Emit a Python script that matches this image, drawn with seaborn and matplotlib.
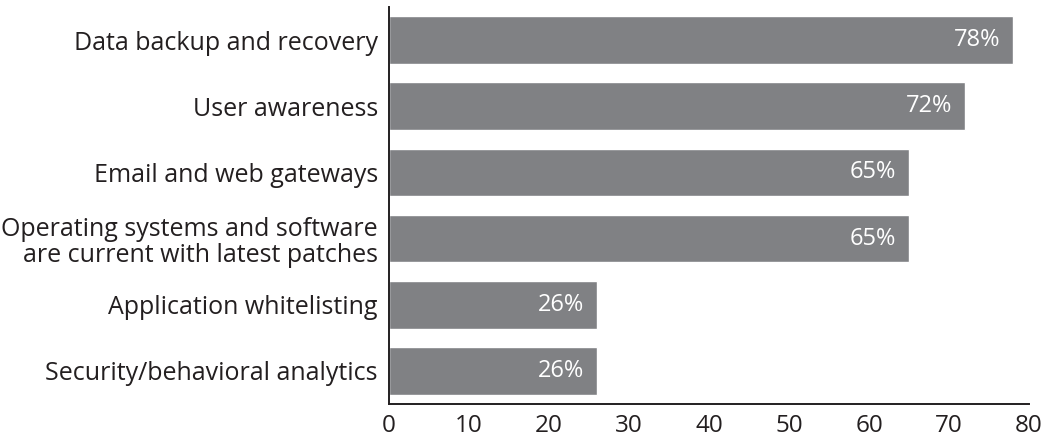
import matplotlib
matplotlib.use("Agg")
import matplotlib.pyplot as plt
import seaborn as sns
import pandas as pd

categories = [
    "Data backup and recovery",
    "User awareness",
    "Email and web gateways",
    "Operating systems and software\nare current with latest patches",
    "Application whitelisting",
    "Security/behavioral analytics",
]
values = [78, 72, 65, 65, 26, 26]
x_ticks = [0, 10, 20, 30, 40, 50, 60, 70, 80]

sns.set_theme(style="white")
plt.rcParams["font.family"] = ["Open Sans", "DejaVu Sans"]

df = pd.DataFrame({"category": categories, "value": values})

fig = plt.figure(figsize=(10.48, 4.41), dpi=100)
ax = fig.add_axes([0.3712, 0.0839, 0.6107, 0.9002])

bar_color = "#808184"
text_color = "#231f20"
sns.barplot(data=df, x="value", y="category", color=bar_color, saturation=1,
            width=0.72, ax=ax)

for patch, v in zip(ax.patches, values):
    y = patch.get_y() + patch.get_height() / 2
    ax.text(v - 1.6, y, f"{v}%", color="white", ha="right", va="center",
            fontsize=17)

ax.set_xlim(0, 80)
ax.set_ylim(5.5, -0.5)
ax.set_xticks(x_ticks)
ax.set_xticklabels([str(t) for t in x_ticks], fontsize=17.5, color=text_color)
ax.tick_params(axis="y", labelsize=18, colors=text_color, length=0, pad=8)
ax.tick_params(axis="x", direction="in", length=9, width=1.2, color=text_color, pad=7)
for lbl in ax.get_yticklabels():
    lbl.set_linespacing(1.1)
ax.set_xlabel("")
ax.set_ylabel("")

for side in ["top", "right"]:
    ax.spines[side].set_visible(False)
for side in ["left", "bottom"]:
    ax.spines[side].set_color(text_color)
    ax.spines[side].set_linewidth(1.4)

fig.savefig("out.png", dpi=100)
